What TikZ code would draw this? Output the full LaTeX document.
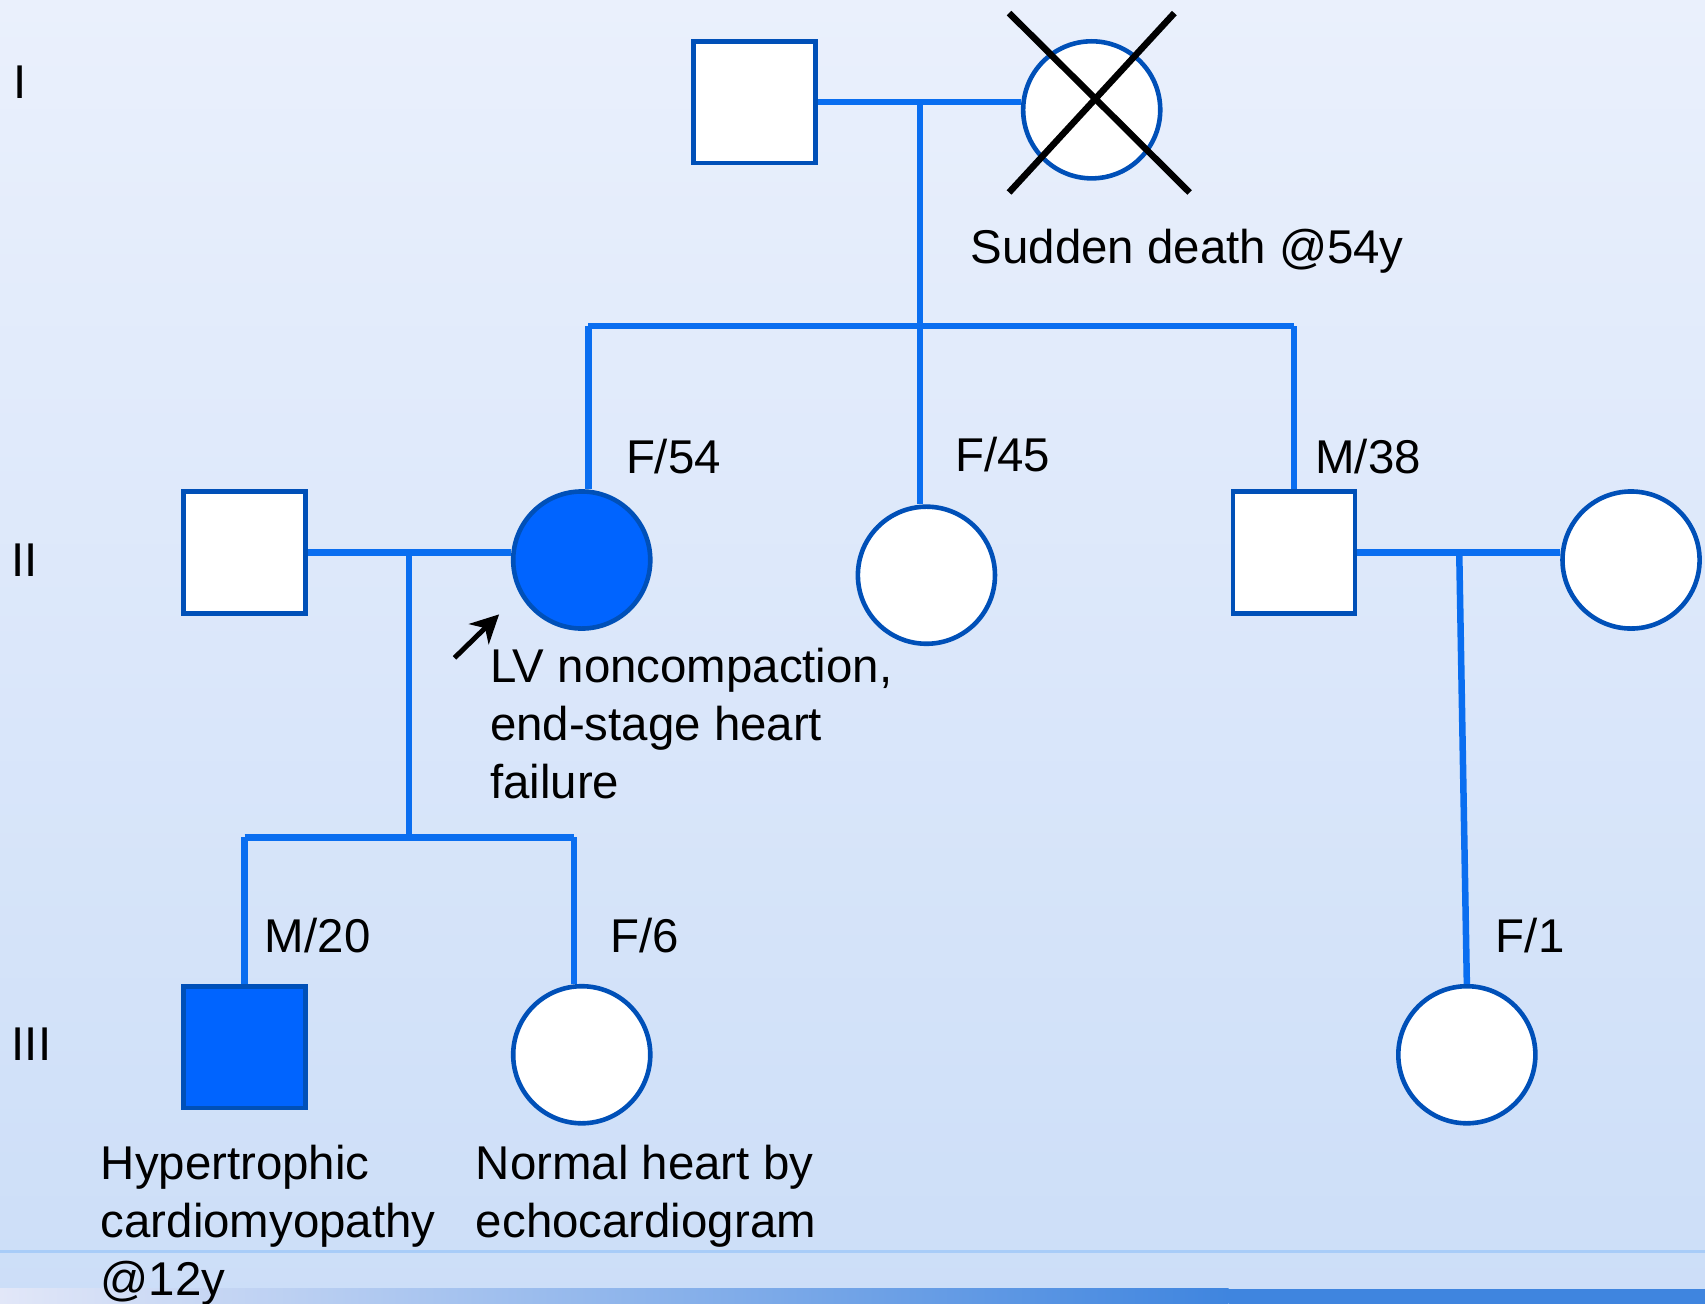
\documentclass[tikz,border=0pt]{standalone}
\usepackage{fontspec}
\setmainfont{Liberation Sans}
\definecolor{pedLine}{RGB}{10, 110, 240}
\definecolor{pedEdge}{RGB}{0, 80, 184}
\definecolor{pedFill}{RGB}{0, 100, 255}
\definecolor{bgTop}{RGB}{234, 240, 252}
\definecolor{bgBottom}{RGB}{204, 222, 248}
\definecolor{barBlue}{RGB}{63, 133, 223}
\definecolor{barLight}{RGB}{226, 231, 248}
\definecolor{ruleBlue}{RGB}{168, 204, 248}
\usetikzlibrary{arrows.meta, positioning, calc}

\tikzset{
  male/.style={draw=pedEdge, line width=1.2pt, fill=white, minimum size=1.12cm, inner sep=0pt},
  female/.style={circle, draw=pedEdge, line width=1.2pt, fill=white, minimum size=1.26cm, inner sep=0pt},
  affected/.style={fill=pedFill},
  kin/.style={pedLine, line width=1.7pt},
  deceased/.style={line width=1.7pt},
  lbl/.style={font=\fontsize{12.4}{15.2}\selectfont, inner sep=0pt},
}

\begin{document}
\begin{tikzpicture}[x=0.01cm, y=-0.01cm]
    % background
    \shade[top color=bgTop, bottom color=bgBottom] (0,0) rectangle (1568,1199);
    \useasboundingbox (0,0) rectangle (1568,1199);
    \draw[ruleBlue, line width=0.6pt] (0,1151) -- (1568,1151);
    \shade[left color=barLight, right color=barBlue] (0,1185) rectangle (1130,1199);
    \fill[barBlue] (1130,1185) rectangle (1568,1199);

    % generation I
    \node[male] (gpa) at (694,94) {};
    \node[female] (gma) at (1004,101) {};
    \draw[deceased] ($(gma)+(-76,-89)$) -- ($(gma)+(90,76)$);
    \draw[deceased] ($(gma)+(76,-89)$) -- ($(gma)+(-76,76)$);
    \node[lbl, anchor=base west] (gmaNote) at (892,242) {Sudden death @54y};

    % generation II
    \node[male] (husb) at (225,508) {};
    \node[female, affected] (prob) at (535,515) {};
    \node[female] (aunt) at (852,529) {};
    \node[male] (uncle) at (1190,508) {};
    \node[female] (wife) at (1500,515) {};

    % generation III
    \node[male, affected] (son) at (225,963) {};
    \node[female] (dau) at (535,970) {};
    \node[female] (cous) at (1349,970) {};

    % lines of descent
    \coordinate (m1) at (846,94);
    \coordinate (s2) at (846,300);
    \coordinate (s2l) at (541,300);
    \coordinate (s2r) at (1190,300);
    \draw[kin] (gpa.east) -- (gpa.east -| gma.west);
    \draw[kin] (m1) -- (s2);
    \draw[kin] (s2l) -- (s2r);
    \draw[kin] (s2l) -- (s2l |- prob.north);
    \draw[kin] (s2) -- (s2 |- aunt.north);
    \draw[kin] (s2r) -- (uncle.north);

    \coordinate (m2) at (376,508);
    \coordinate (s3) at (376,770);
    \coordinate (s3l) at (225,770);
    \coordinate (s3r) at (528,770);
    \draw[kin] (husb.east) -- (husb.east -| prob.west);
    \draw[kin] (m2) -- (s3);
    \draw[kin] (s3l) -- (s3r);
    \draw[kin] (s3l) -- (son.north);
    \draw[kin] (s3r) -- (s3r |- dau.north);

    \coordinate (m3) at (1342,508);
    \draw[kin] (uncle.east) -- (uncle.east -| wife.west);
    \draw[kin] (m3) -- (cous.north);

    % proband arrow
    \coordinate (pt) at (418,605);
    \draw[-{Stealth[length=2.6mm, width=2.6mm, inset=0.8mm]}, line width=1.3pt] (pt) -- ++(41,-40);

    % labels
    \node[lbl, anchor=base west] (l54) at (575,435) {F/54};
    \node[lbl, anchor=base west] (l45) at (878,434) {F/45};
    \node[lbl, anchor=base west] (l38) at (1209,435) {M/38};
    \node[lbl, anchor=base west] (l20) at (243,876) {M/20};
    \node[lbl, anchor=base west] (l6) at (561,876) {F/6};
    \node[lbl, anchor=base west] (l1) at (1375,876) {F/1};

    \node[lbl, anchor=north west, align=left] (probNote) at (450,595) {LV noncompaction,\\end-stage heart\\failure};
    \node[lbl, anchor=north west, align=left] (sonNote) at (92,1052) {Hypertrophic\\cardiomyopathy\\@12y};
    \node[lbl, anchor=north west, align=left] (dauNote) at (437,1052) {Normal heart by\\echocardiogram};

    % generations
    \node[lbl, anchor=base west] (genI) at (12,91) {I};
    \node[lbl, anchor=base west] (genII) at (10,530) {II};
    \node[lbl, anchor=base west] (genIII) at (10,975) {III};
  \end{tikzpicture}
\end{document}
